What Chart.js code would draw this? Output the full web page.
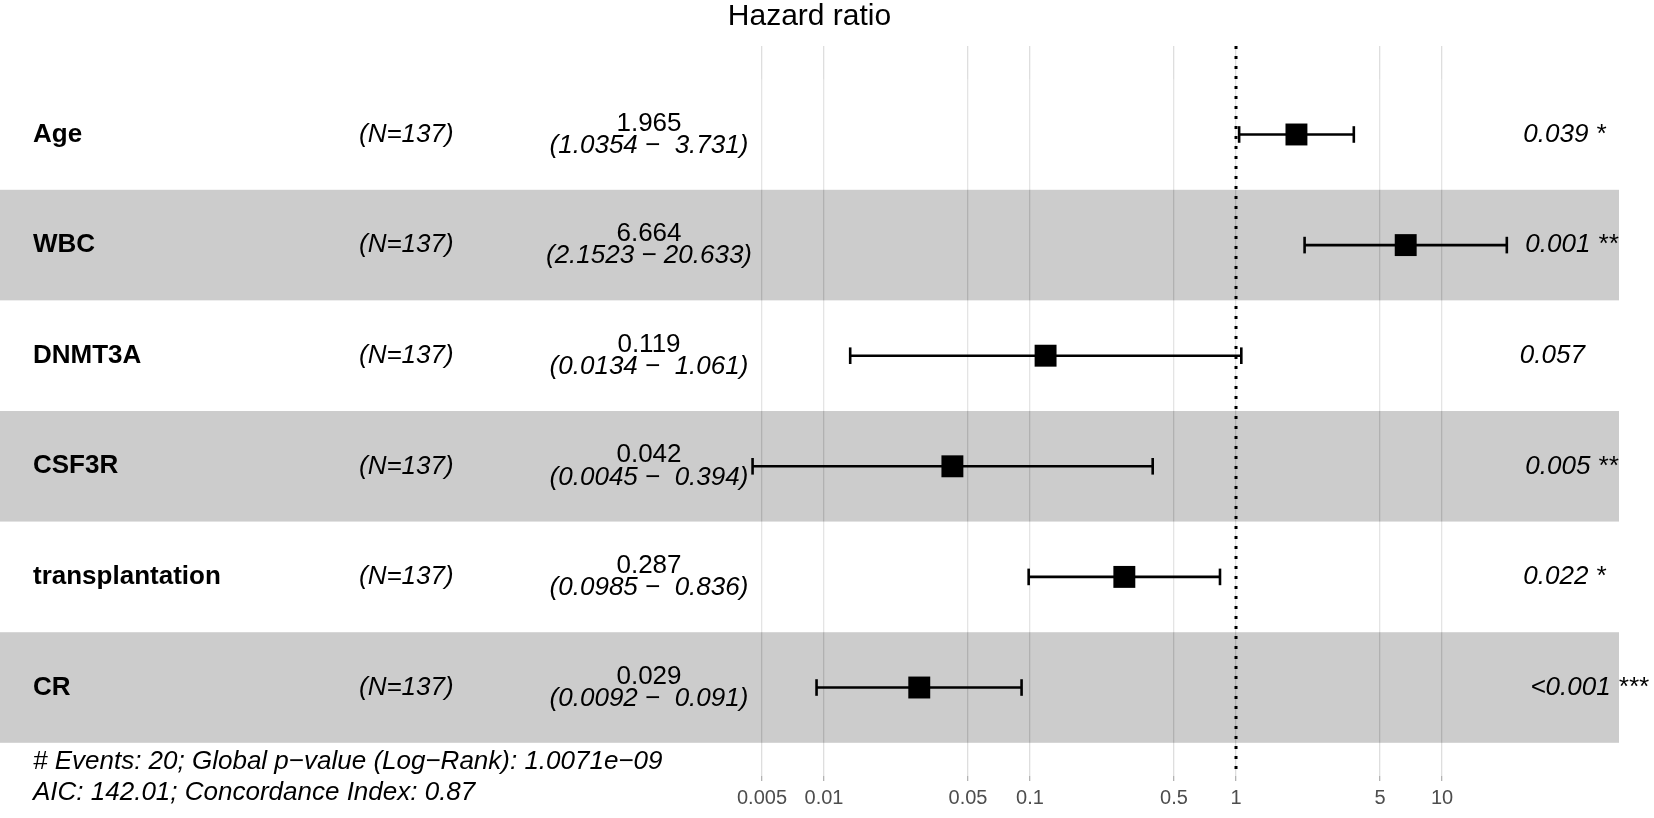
<!DOCTYPE html>
<html>
<head>
<meta charset="utf-8">
<title>Hazard ratio</title>
<script src="https://cdn.jsdelivr.net/npm/chart.js@4.4.1/dist/chart.umd.min.js"></script>
<style>
  html, body { margin: 0; padding: 0; background: #fff; }
  #wrap { width: 1654px; height: 818px; }
</style>
</head>
<body>
<div id="wrap"><canvas id="forest" width="1654" height="818"></canvas></div>
<script>
// forest plot data (one entry per row, top to bottom)
const variables = ["Age", "WBC", "DNMT3A", "CSF3R", "transplantation", "CR"];
const sampleN = [137, 137, 137, 137, 137, 137];
const hazardRatio = [1.965, 6.664, 0.119, 0.042, 0.287, 0.029];
const ciLower = [1.0354, 2.1523, 0.0134, 0.0045, 0.0985, 0.0092];
const ciUpper = [3.731, 20.633, 1.061, 0.394, 0.836, 0.091];
const pValues = ["0.039", "0.001", "0.057", "0.005", "0.022", "<0.001"];
const pStars = ["*", "**", "", "**", "*", "***"];

// x axis ticks
const tickValues = [0.005, 0.01, 0.05, 0.1, 0.5, 1, 5, 10];
const tickLabels = ["0.005", "0.01", "0.05", "0.1", "0.5", "1", "5", "10"];

const footerLines = [
  "# Events: 20; Global p\u2212value (Log\u2212Rank): 1.0071e\u221209",
  "AIC: 142.01; Concordance Index: 0.87"
];

const FONT = '"Liberation Sans", Arial, Helvetica, sans-serif';

// row index axis: -0.5 .. 5.5 is the banded area, 0.3 row of margin each side
const yMin = -0.8;
const yMax = 5.8;

// white background + alternating bands like ggforest
const bandsPlugin = {
  id: "bands",
  beforeDraw(chart) {
    const ctx = chart.ctx;
    ctx.save();
    ctx.fillStyle = "#ffffff";
    ctx.fillRect(0, 0, chart.width, chart.height);
    ctx.restore();
  },
  beforeDatasetsDraw(chart) {
    const ctx = chart.ctx;
    const y = chart.scales.y;
    const area = chart.chartArea;
    ctx.save();
    variables.forEach((v, i) => {
      const top = y.getPixelForValue(i - 0.5);
      const bot = y.getPixelForValue(i + 0.5);
      ctx.fillStyle = i % 2 === 1 ? "rgba(0,0,0,0.2)" : "rgba(255,255,255,0.2)";
      ctx.fillRect(area.left, top, area.right - area.left, bot - top);
    });
    ctx.restore();
  }
};

// text columns: names, N, estimate + CI, p-values, footer
const textPlugin = {
  id: "forestText",
  afterDatasetsDraw(chart) {
    const ctx = chart.ctx;
    const x = chart.scales.x;
    const y = chart.scales.y;
    // p-values start just right of the widest CI (hjust -0.2 as in ggforest)
    const pStart = x.getPixelForValue(Math.max(...ciUpper));
    ctx.save();
    ctx.fillStyle = "#000";
    ctx.textBaseline = "middle";

    variables.forEach((name, i) => {
      const cy = y.getPixelForValue(i);

      ctx.font = "bold 26px " + FONT;
      ctx.textAlign = "left";
      ctx.fillText(name, 33, cy);

      ctx.font = "italic 26px " + FONT;
      ctx.fillText("(N=" + sampleN[i] + ")", 359, cy);

      ctx.textAlign = "center";
      ctx.font = "26px " + FONT;
      ctx.fillText(String(hazardRatio[i]), 649, cy - 11);
      ctx.font = "italic 26px " + FONT;
      const ci = "(" + ciLower[i] + " \u2212 " + String(ciUpper[i]).padStart(6, " ") + ")";
      ctx.fillText(ci, 649, cy + 11);

      ctx.textAlign = "left";
      const p = pStars[i] ? pValues[i] + " " + pStars[i] : pValues[i];
      const w = ctx.measureText(p).width;
      ctx.fillText(p, pStart + 0.2 * w, cy);
    });

    ctx.font = "italic 26px " + FONT;
    ctx.textAlign = "left";
    ctx.fillText(footerLines[0], 33, 762);
    ctx.fillText(footerLines[1], 33, 793);
    ctx.restore();
  }
};

const barSets = variables.map((v, i) => ({
  type: "line",
  data: [{ x: ciLower[i], y: i }, { x: ciUpper[i], y: i }],
  borderColor: "#000",
  borderWidth: 2.6,
  pointStyle: "line",
  pointRotation: 90,
  pointRadius: 8.3,
  pointBorderWidth: 2.6,
  pointBorderColor: "#000",
  pointHoverRadius: 8.3
}));

const chart = new Chart(document.getElementById("forest"), {
  data: {
    datasets: [
      {
        type: "scatter",
        data: hazardRatio.map((v, i) => ({ x: v, y: i })),
        pointStyle: "rect",
        pointRadius: 15.5,
        pointHoverRadius: 15.5,
        backgroundColor: "#000",
        borderWidth: 0
      },
      ...barSets,
      {
        type: "line",
        data: [{ x: 1, y: yMin }, { x: 1, y: yMax }],
        borderColor: "#000",
        borderWidth: 3,
        borderDash: [3, 7],
        pointRadius: 0
      }
    ]
  },
  options: {
    responsive: false,
    animation: false,
    layout: { autoPadding: false, padding: { left: 0, right: 35, top: 0, bottom: 0 } },
    plugins: {
      legend: { display: false },
      tooltip: { enabled: false },
      title: {
        display: true,
        text: "Hazard ratio",
        color: "#000",
        font: { family: FONT, size: 30, weight: "normal", lineHeight: 1 },
        padding: { top: 2, bottom: 14 }
      }
    },
    scales: {
      x: {
        type: "logarithmic",
        min: 1e-6,
        max: 72.3,
        afterBuildTicks(scale) {
          scale.ticks = tickValues.map(v => ({ value: v }));
        },
        afterFit(scale) {
          scale.height = 42;
        },
        grid: {
          color: "#dedede",
          lineWidth: 1.3,
          tickColor: "#b3b3b3",
          tickLength: 5
        },
        border: { display: false },
        ticks: {
          autoSkip: false,
          maxRotation: 0,
          padding: 5,
          color: "#4d4d4d",
          font: { family: FONT, size: 20 },
          callback(value, index) {
            return tickLabels[index];
          }
        }
      },
      y: {
        type: "linear",
        display: false,
        reverse: true,
        min: yMin,
        max: yMax
      }
    }
  },
  plugins: [bandsPlugin, textPlugin]
});
</script>
</body>
</html>
